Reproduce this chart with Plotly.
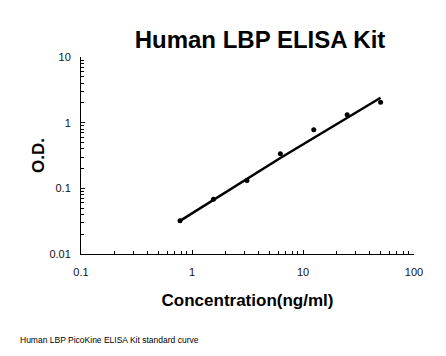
import plotly.graph_objects as go

# Data
concentration = [0.78, 1.56, 3.125, 6.25, 12.5, 25, 50]
od_values = [0.032, 0.068, 0.132, 0.336, 0.78, 1.32, 2.05]
fit_x = [0.78, 6.25, 50]
fit_y = [0.032, 0.29, 2.4]

x_tick_vals = [0.1, 1, 10, 100]
x_tick_text = ["0.1", "1", "10", "100"]
y_tick_vals = [0.01, 0.1, 1, 10]
y_tick_text = ["0.01", "0.1", "1", "10"]

FONT = "Liberation Sans, Arial, sans-serif"

fig = go.Figure()
fig.add_trace(go.Scatter(x=fit_x, y=fit_y, mode="lines",
                         line=dict(color="black", width=2.5), hoverinfo="skip"))
fig.add_trace(go.Scatter(x=concentration, y=od_values, mode="markers",
                         marker=dict(color="black", size=5)))

axis_common = dict(
    type="log", showgrid=False, zeroline=False, showline=True, automargin=False,
    linecolor="black", linewidth=1, ticks="inside", ticklen=4,
    tickcolor="black", tickfont=dict(family=FONT, size=11, color="#111111"),
    minor=dict(ticks="inside", ticklen=3, tickcolor="black", dtick="D1", showgrid=False),
)

fig.update_layout(
    width=446, height=356,
    margin=dict(l=73, r=40, t=49, b=110),
    paper_bgcolor="white", plot_bgcolor="white",
    showlegend=False,
    title=dict(text="<b>Human LBP ELISA Kit</b>", x=0.565, xanchor="center",
               y=0.91, yanchor="middle", automargin=False,
               font=dict(family=FONT, size=24, color="black")),
    xaxis=dict(axis_common, range=[-1, 2], tickvals=x_tick_vals, ticktext=x_tick_text,
               ticklabelstandoff=8,
               title=dict(text="<b>Concentration(ng/ml)</b>",
                          font=dict(family=FONT, size=17, color="black"), standoff=16)),
    yaxis=dict(axis_common, range=[-2, 1], tickvals=y_tick_vals, ticktext=y_tick_text,
               ticklabelstandoff=7,
               title=dict(text="<b>O.D.</b>",
                          font=dict(family=FONT, size=17, color="black"), standoff=0)),
    annotations=[dict(text="Human LBP PicoKine ELISA Kit standard curve",
                      xref="paper", yref="paper", x=-0.189, y=-0.437,
                      xanchor="left", yanchor="middle", showarrow=False,
                      font=dict(family=FONT, size=8.5, color="black"))],
)

fig.write_html("out.html")
